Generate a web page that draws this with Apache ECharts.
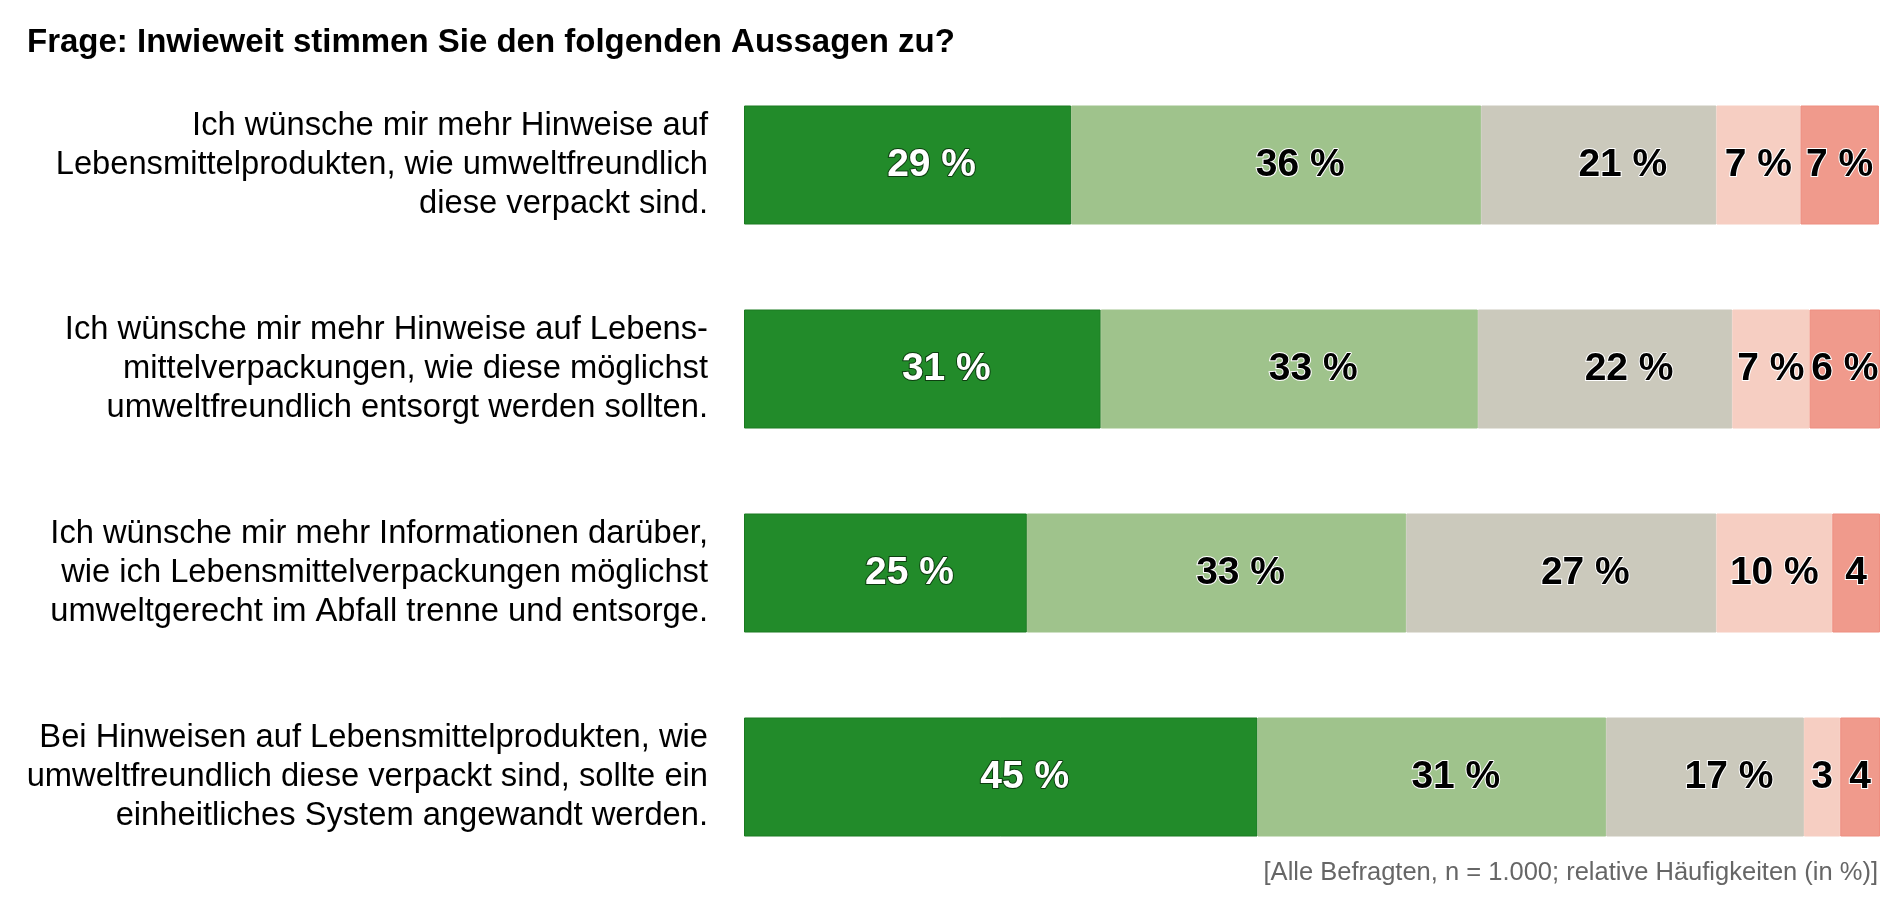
<!DOCTYPE html>
<html><head><meta charset="utf-8">
<script src="https://cdn.jsdelivr.net/npm/echarts@6/dist/echarts.min.js"></script>
<style>html,body{margin:0;padding:0;background:#fff}#c{width:1900px;height:908px}</style>
</head><body><div id="c"></div>
<script>
const categories = [
  "Ich wünsche mir mehr Hinweise auf\nLebensmittelprodukten, wie umweltfreundlich\ndiese verpackt sind.",
  "Ich wünsche mir mehr Hinweise auf Lebens-\nmittelverpackungen, wie diese möglichst\numweltfreundlich entsorgt werden sollten.",
  "Ich wünsche mir mehr Informationen darüber,\nwie ich Lebensmittelverpackungen möglichst\numweltgerecht im Abfall trenne und entsorge.",
  "Bei Hinweisen auf Lebensmittelprodukten, wie\numweltfreundlich diese verpackt sind, sollte ein\neinheitliches System angewandt werden."
];
const seriesNames = ["Stimme voll zu", "Stimme eher zu", "Teils/teils", "Stimme eher nicht zu", "Stimme gar nicht zu"];
const s1 = [28.8, 31.4, 24.9, 45.2];
const s2 = [36.1, 33.2, 33.4, 30.7];
const s3 = [20.7, 22.4, 27.3, 17.4];
const s4 = [7.4, 6.8, 10.2, 3.2];
const s5 = [6.9, 6.2, 4.2, 3.5];
const colors = ["#228B2A", "#9FC38C", "#CBC9BC", "#F6CEC2", "#F09A8C"];
const borderColors = ["#1a7a20", "#9FC38C", "#CBC9BC", "#F6CEC2", "#EE8E80"];
const title = "Frage: Inwieweit stimmen Sie den folgenden Aussagen zu?";
const footnote = "[Alle Befragten, n = 1.000; relative Häufigkeiten (in %)]";

const allSeries = [s1, s2, s3, s4, s5];
const chart = echarts.init(document.getElementById('c'));
chart.setOption({
  backgroundColor: '#ffffff',
  animation: false,
  title: [
    {text: title, left: 27, top: 26, padding: 0, textStyle: {fontFamily: 'Liberation Sans', fontWeight: 'bold', fontSize: 33, color: '#000'}},
    {text: footnote, right: 22, top: 860, padding: 0, textStyle: {fontFamily: 'Liberation Sans', fontWeight: 'normal', fontSize: 25.5, color: '#666'}}
  ],
  grid: {left: 744, right: 20, top: 63, bottom: 29},
  xAxis: {type: 'value', min: 0, max: 100, show: false},
  yAxis: {
    type: 'category', data: categories, inverse: true,
    axisLine: {show: false}, axisTick: {show: false},
    axisLabel: {margin: 36, align: 'right', fontFamily: 'Liberation Sans', fontSize: 32.7, lineHeight: 39, color: '#000'}
  },
  series: allSeries.map((d, i) => ({
    name: seriesNames[i], type: 'bar', stack: 'total', data: d, barWidth: 119,
    itemStyle: {color: colors[i], borderColor: borderColors[i], borderWidth: 1},
    label: {
      show: true, position: 'inside',
      offset: i < 3 ? [24, 0] : [0, 0],
      formatter: p => Math.round(p.value) + (p.value >= 5 ? ' %' : ''),
      fontFamily: 'Liberation Sans', fontWeight: 'bold', fontSize: 39,
      color: i === 0 ? '#fff' : '#000',
      textBorderColor: i === 0 ? '#0d3d10' : '#fff', textBorderWidth: 2
    }
  }))
});
</script></body></html>
